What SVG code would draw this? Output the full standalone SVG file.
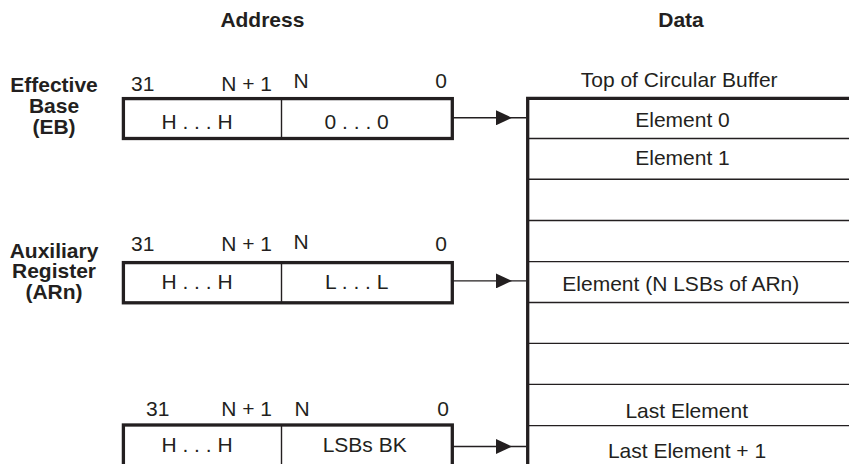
<svg xmlns="http://www.w3.org/2000/svg" width="849" height="464" viewBox="0 0 849 464">
<defs>
<style>
text{font-family:"Liberation Sans",Arial,sans-serif;font-size:21px;fill:#231f20}
.b{font-weight:bold}
.m{text-anchor:middle}
.e{text-anchor:end}
.box{fill:#fff;stroke:#231f20;stroke-width:3.3}
.thin{stroke:#231f20;stroke-width:1.4;fill:none}
.thick{stroke:#231f20;stroke-width:3.3;fill:none}
</style>
<marker id="ah" markerUnits="userSpaceOnUse" viewBox="0 0 16 15" refX="16" refY="7.5" markerWidth="16" markerHeight="15" orient="auto">
<path d="M0,0 L16,7.5 L0,15 Z" fill="#231f20"/>
</marker>
</defs>
<rect width="849" height="464" fill="#fff"/>
<g id="headers">
<text class="b m" x="262.4" y="27.3">Address</text>
<text class="b m" x="681" y="27.3">Data</text>
</g>
<g id="eb">
<text class="b m" x="54" y="92.1">Effective</text>
<text class="b m" x="54" y="113">Base</text>
<text class="b m" x="54" y="133.8">(EB)</text>
<text x="131" y="91">31</text>
<text class="e" x="272" y="91">N + 1</text>
<text x="293.5" y="87.5">N</text>
<text class="e" x="447" y="87.5">0</text>
<rect class="box" x="123.4" y="98.6" width="328.9" height="39.9"/>
<line class="thin" x1="281.5" y1="98.6" x2="281.5" y2="138.5"/>
<text class="m" x="197" y="129.3">H . . . H</text>
<text class="m" x="356.7" y="129.3">0 . . . 0</text>
</g>
<g id="arn">
<text class="b m" x="54" y="257.5">Auxiliary</text>
<text class="b m" x="54" y="278.3">Register</text>
<text class="b m" x="54" y="299.1">(ARn)</text>
<text x="131" y="251.3">31</text>
<text class="e" x="272" y="250.8">N + 1</text>
<text x="293.5" y="249">N</text>
<text class="e" x="447" y="250.5">0</text>
<rect class="box" x="123.4" y="262.6" width="328.9" height="40.2"/>
<line class="thin" x1="281.5" y1="262.6" x2="281.5" y2="302.8"/>
<text class="m" x="197" y="288.6">H . . . H</text>
<text class="m" x="356.7" y="288.6">L . . . L</text>
</g>
<g id="bk">
<text x="146" y="416">31</text>
<text class="e" x="272" y="416">N + 1</text>
<text x="294.5" y="416">N</text>
<text class="e" x="449" y="416">0</text>
<rect class="box" x="123.4" y="425" width="328.9" height="41"/>
<line class="thin" x1="281.5" y1="425" x2="281.5" y2="466"/>
<text class="m" x="197" y="451.7">H . . . H</text>
<text class="m" x="364.7" y="451.7">LSBs BK</text>
</g>
<g id="buffer">
<text class="m" x="679.2" y="86.7">Top of Circular Buffer</text>
<g class="thin">
<line x1="527.7" y1="138.5" x2="849" y2="138.5"/>
<line x1="527.7" y1="179.3" x2="849" y2="179.3"/>
<line x1="527.7" y1="220.5" x2="849" y2="220.5"/>
<line x1="527.7" y1="261.6" x2="849" y2="261.6"/>
<line x1="527.7" y1="302.5" x2="849" y2="302.5"/>
<line x1="527.7" y1="343.4" x2="849" y2="343.4"/>
<line x1="527.7" y1="384.4" x2="849" y2="384.4"/>
<line x1="527.7" y1="425.6" x2="849" y2="425.6"/>
</g>
<path class="thick" d="M527.7,466 V98.3 H849"/>
<text class="m" x="682.5" y="126.7">Element 0</text>
<text class="m" x="682.5" y="165">Element 1</text>
<text class="m" x="680.8" y="291">Element (N LSBs of ARn)</text>
<text class="m" x="686.7" y="418.3">Last Element</text>
<text class="m" x="687" y="457.7">Last Element + 1</text>
</g>
<g id="connectors">
<path class="thin" d="M452.3,117.8 H512 H526" marker-mid="url(#ah)"/>
<path class="thin" d="M452.3,280.9 H512 H526" marker-mid="url(#ah)"/>
<path class="thin" d="M452.3,446.5 H512 H526" marker-mid="url(#ah)"/>
</g>
</svg>
